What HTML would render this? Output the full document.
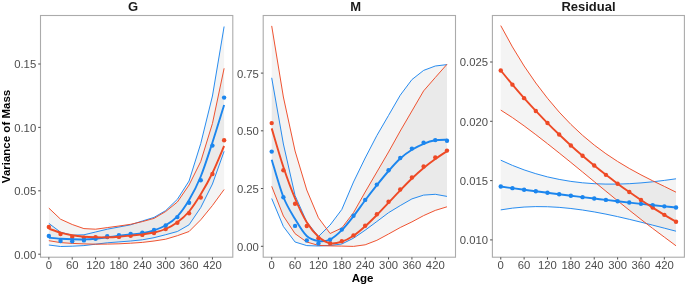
<!DOCTYPE html>
<html><head><meta charset="utf-8"><title>Variance of Mass</title><style>
html,body{margin:0;padding:0;background:#fff;}
body{width:685px;height:286px;overflow:hidden;}
svg{will-change:transform;}
svg text{font-family:"Liberation Sans",sans-serif;}
.tk{font-size:11.3px;fill:#4d4d4d;}
.st{font-size:13px;font-weight:bold;fill:#1a1a1a;}
.ax{font-size:11.5px;font-weight:bold;fill:#000;}
</style></head>
<body>
<svg width="685" height="286" viewBox="0 0 685 286" style="display:block">
<rect width="685" height="286" fill="#fff"/>
<clipPath id="cG"><rect x="40.5" y="15.5" width="192.3" height="241.7"/></clipPath>
<g clip-path="url(#cG)">
<polygon points="48.85,208.10 60.54,219.20 72.22,224.50 83.91,228.60 95.59,229.20 107.28,227.60 118.96,226.00 130.65,224.30 142.33,221.60 154.02,218.40 165.70,211.50 177.38,202.00 189.07,185.00 200.75,161.50 212.44,123.50 224.12,68.30 224.12,189.50 212.44,205.50 200.75,219.80 189.07,231.50 177.38,235.70 165.70,239.20 154.02,241.00 142.33,242.40 130.65,243.20 118.96,243.80 107.28,244.10 95.59,244.20 83.91,243.90 72.22,243.40 60.54,242.60 48.85,240.70" fill="rgba(179,179,179,0.15)"/>
<polygon points="48.85,223.40 60.54,232.20 72.22,235.20 83.91,234.80 95.59,232.00 107.28,229.20 118.96,227.00 130.65,224.80 142.33,221.00 154.02,217.40 165.70,210.60 177.38,199.30 189.07,181.00 200.75,143.50 212.44,96.00 224.12,26.50 224.12,151.30 212.44,184.00 200.75,207.50 189.07,224.80 177.38,231.50 165.70,234.70 154.02,237.70 142.33,239.80 130.65,241.00 118.96,241.90 107.28,242.80 95.59,244.20 83.91,245.60 72.22,246.20 60.54,246.50 48.85,245.00" fill="rgba(179,179,179,0.15)"/>
<polyline points="48.85,223.40 60.54,232.20 72.22,235.20 83.91,234.80 95.59,232.00 107.28,229.20 118.96,227.00 130.65,224.80 142.33,221.00 154.02,217.40 165.70,210.60 177.38,199.30 189.07,181.00 200.75,143.50 212.44,96.00 224.12,26.50" fill="none" stroke="#1C86EE" stroke-width="0.95" stroke-linejoin="round"/>
<polyline points="48.85,245.00 60.54,246.50 72.22,246.20 83.91,245.60 95.59,244.20 107.28,242.80 118.96,241.90 130.65,241.00 142.33,239.80 154.02,237.70 165.70,234.70 177.38,231.50 189.07,224.80 200.75,207.50 212.44,184.00 224.12,151.30" fill="none" stroke="#1C86EE" stroke-width="0.95" stroke-linejoin="round"/>
<polyline points="48.85,208.10 60.54,219.20 72.22,224.50 83.91,228.60 95.59,229.20 107.28,227.60 118.96,226.00 130.65,224.30 142.33,221.60 154.02,218.40 165.70,211.50 177.38,202.00 189.07,185.00 200.75,161.50 212.44,123.50 224.12,68.30" fill="none" stroke="#EE4A26" stroke-width="0.95" stroke-linejoin="round"/>
<polyline points="48.85,240.70 60.54,242.60 72.22,243.40 83.91,243.90 95.59,244.20 107.28,244.10 118.96,243.80 130.65,243.20 142.33,242.40 154.02,241.00 165.70,239.20 177.38,235.70 189.07,231.50 200.75,219.80 212.44,205.50 224.12,189.50" fill="none" stroke="#EE4A26" stroke-width="0.95" stroke-linejoin="round"/>
<circle cx="48.85" cy="227.00" r="2.2" fill="#EE4A26"/>
<circle cx="60.54" cy="234.00" r="2.2" fill="#EE4A26"/>
<circle cx="72.22" cy="237.00" r="2.2" fill="#EE4A26"/>
<circle cx="83.91" cy="237.60" r="2.2" fill="#EE4A26"/>
<circle cx="95.59" cy="237.30" r="2.2" fill="#EE4A26"/>
<circle cx="107.28" cy="237.10" r="2.2" fill="#EE4A26"/>
<circle cx="118.96" cy="236.90" r="2.2" fill="#EE4A26"/>
<circle cx="130.65" cy="235.70" r="2.2" fill="#EE4A26"/>
<circle cx="142.33" cy="234.90" r="2.2" fill="#EE4A26"/>
<circle cx="154.02" cy="233.00" r="2.2" fill="#EE4A26"/>
<circle cx="165.70" cy="229.10" r="2.2" fill="#EE4A26"/>
<circle cx="177.38" cy="222.70" r="2.2" fill="#EE4A26"/>
<circle cx="189.07" cy="213.30" r="2.2" fill="#EE4A26"/>
<circle cx="200.75" cy="197.50" r="2.2" fill="#EE4A26"/>
<circle cx="212.44" cy="174.00" r="2.2" fill="#EE4A26"/>
<circle cx="224.12" cy="140.20" r="2.2" fill="#EE4A26"/>
<circle cx="48.85" cy="235.90" r="2.2" fill="#1C86EE"/>
<circle cx="60.54" cy="241.00" r="2.2" fill="#1C86EE"/>
<circle cx="72.22" cy="241.30" r="2.2" fill="#1C86EE"/>
<circle cx="83.91" cy="240.40" r="2.2" fill="#1C86EE"/>
<circle cx="95.59" cy="238.70" r="2.2" fill="#1C86EE"/>
<circle cx="107.28" cy="236.30" r="2.2" fill="#1C86EE"/>
<circle cx="118.96" cy="235.20" r="2.2" fill="#1C86EE"/>
<circle cx="130.65" cy="233.90" r="2.2" fill="#1C86EE"/>
<circle cx="142.33" cy="232.60" r="2.2" fill="#1C86EE"/>
<circle cx="154.02" cy="229.90" r="2.2" fill="#1C86EE"/>
<circle cx="165.70" cy="225.50" r="2.2" fill="#1C86EE"/>
<circle cx="177.38" cy="217.10" r="2.2" fill="#1C86EE"/>
<circle cx="189.07" cy="202.70" r="2.2" fill="#1C86EE"/>
<circle cx="200.75" cy="180.30" r="2.2" fill="#1C86EE"/>
<circle cx="212.44" cy="145.60" r="2.2" fill="#1C86EE"/>
<circle cx="224.12" cy="97.60" r="2.2" fill="#1C86EE"/>
<path d="M48.85,237.70 C50.80,237.87 56.64,238.43 60.54,238.70 C64.43,238.97 68.33,239.18 72.22,239.30 C76.11,239.42 80.01,239.50 83.91,239.40 C87.80,239.30 91.70,239.05 95.59,238.70 C99.48,238.35 103.38,237.78 107.28,237.30 C111.17,236.82 115.07,236.27 118.96,235.80 C122.86,235.33 126.75,234.93 130.65,234.50 C134.54,234.07 138.44,233.90 142.33,233.20 C146.23,232.50 150.12,231.62 154.02,230.30 C157.91,228.98 161.81,227.63 165.70,225.30 C169.60,222.97 173.49,220.52 177.38,216.30 C181.28,212.08 185.17,206.63 189.07,200.00 C192.97,193.37 196.86,186.08 200.75,176.50 C204.65,166.92 208.54,154.42 212.44,142.50 C216.34,130.58 222.18,111.25 224.12,105.00" fill="none" stroke="#1C86EE" stroke-width="1.9" stroke-linecap="butt"/>
<path d="M48.85,228.70 C50.80,229.35 56.64,231.50 60.54,232.60 C64.43,233.70 68.33,234.60 72.22,235.30 C76.11,236.00 80.01,236.47 83.91,236.80 C87.80,237.13 91.70,237.22 95.59,237.30 C99.48,237.38 103.38,237.40 107.28,237.30 C111.17,237.20 115.07,236.98 118.96,236.70 C122.86,236.42 126.75,235.98 130.65,235.60 C134.54,235.22 138.44,234.92 142.33,234.40 C146.23,233.88 150.12,233.40 154.02,232.50 C157.91,231.60 161.81,230.70 165.70,229.00 C169.60,227.30 173.49,225.22 177.38,222.30 C181.28,219.38 185.17,216.17 189.07,211.50 C192.97,206.83 196.86,200.72 200.75,194.30 C204.65,187.88 208.54,181.05 212.44,173.00 C216.34,164.95 222.18,150.50 224.12,146.00" fill="none" stroke="#EE4A26" stroke-width="1.9" stroke-linecap="butt"/>
</g>
<rect x="40.5" y="15.5" width="192.3" height="241.7" fill="none" stroke="#ababab" stroke-width="1.1"/>
<line x1="48.85" y1="257.2" x2="48.85" y2="259.5" stroke="#555" stroke-width="1.05"/>
<text x="48.85" y="268.8" text-anchor="middle" class="tk">0</text>
<line x1="72.22" y1="257.2" x2="72.22" y2="259.5" stroke="#555" stroke-width="1.05"/>
<text x="72.22" y="268.8" text-anchor="middle" class="tk">60</text>
<line x1="95.59" y1="257.2" x2="95.59" y2="259.5" stroke="#555" stroke-width="1.05"/>
<text x="95.59" y="268.8" text-anchor="middle" class="tk">120</text>
<line x1="118.96" y1="257.2" x2="118.96" y2="259.5" stroke="#555" stroke-width="1.05"/>
<text x="118.96" y="268.8" text-anchor="middle" class="tk">180</text>
<line x1="142.33" y1="257.2" x2="142.33" y2="259.5" stroke="#555" stroke-width="1.05"/>
<text x="142.33" y="268.8" text-anchor="middle" class="tk">240</text>
<line x1="165.70" y1="257.2" x2="165.70" y2="259.5" stroke="#555" stroke-width="1.05"/>
<text x="165.70" y="268.8" text-anchor="middle" class="tk">300</text>
<line x1="189.07" y1="257.2" x2="189.07" y2="259.5" stroke="#555" stroke-width="1.05"/>
<text x="189.07" y="268.8" text-anchor="middle" class="tk">360</text>
<line x1="212.44" y1="257.2" x2="212.44" y2="259.5" stroke="#555" stroke-width="1.05"/>
<text x="212.44" y="268.8" text-anchor="middle" class="tk">420</text>
<clipPath id="cM"><rect x="263.2" y="15.5" width="192.3" height="241.7"/></clipPath>
<g clip-path="url(#cM)">
<polygon points="271.70,25.90 283.38,97.00 295.07,151.00 306.75,190.00 318.44,217.80 330.12,233.50 341.81,228.00 353.50,212.70 365.18,192.00 376.87,172.00 388.55,152.00 400.24,131.00 411.92,111.00 423.61,90.90 435.29,77.50 446.98,64.30 446.98,206.80 435.29,210.40 423.61,215.60 411.92,221.90 400.24,227.50 388.55,234.00 376.87,240.30 365.18,244.80 353.50,246.40 341.81,246.10 330.12,245.90 318.44,245.40 306.75,242.00 295.07,233.70 283.38,216.00 271.70,186.30" fill="rgba(179,179,179,0.15)"/>
<polygon points="271.70,77.80 283.38,144.00 295.07,195.50 306.75,222.00 318.44,236.50 330.12,225.00 341.81,209.50 353.50,182.00 365.18,158.00 376.87,135.50 388.55,115.40 400.24,95.20 411.92,79.60 423.61,70.40 435.29,66.00 446.98,64.60 446.98,196.40 435.29,194.30 423.61,195.10 411.92,198.90 400.24,205.60 388.55,212.70 376.87,221.50 365.18,230.20 353.50,238.20 341.81,244.00 330.12,245.50 318.44,246.00 306.75,245.60 295.07,242.00 283.38,226.50 271.70,198.50" fill="rgba(179,179,179,0.15)"/>
<polyline points="271.70,77.80 283.38,144.00 295.07,195.50 306.75,222.00 318.44,236.50 330.12,225.00 341.81,209.50 353.50,182.00 365.18,158.00 376.87,135.50 388.55,115.40 400.24,95.20 411.92,79.60 423.61,70.40 435.29,66.00 446.98,64.60" fill="none" stroke="#1C86EE" stroke-width="0.95" stroke-linejoin="round"/>
<polyline points="271.70,198.50 283.38,226.50 295.07,242.00 306.75,245.60 318.44,246.00 330.12,245.50 341.81,244.00 353.50,238.20 365.18,230.20 376.87,221.50 388.55,212.70 400.24,205.60 411.92,198.90 423.61,195.10 435.29,194.30 446.98,196.40" fill="none" stroke="#1C86EE" stroke-width="0.95" stroke-linejoin="round"/>
<polyline points="271.70,25.90 283.38,97.00 295.07,151.00 306.75,190.00 318.44,217.80 330.12,233.50 341.81,228.00 353.50,212.70 365.18,192.00 376.87,172.00 388.55,152.00 400.24,131.00 411.92,111.00 423.61,90.90 435.29,77.50 446.98,64.30" fill="none" stroke="#EE4A26" stroke-width="0.95" stroke-linejoin="round"/>
<polyline points="271.70,186.30 283.38,216.00 295.07,233.70 306.75,242.00 318.44,245.40 330.12,245.90 341.81,246.10 353.50,246.40 365.18,244.80 376.87,240.30 388.55,234.00 400.24,227.50 411.92,221.90 423.61,215.60 435.29,210.40 446.98,206.80" fill="none" stroke="#EE4A26" stroke-width="0.95" stroke-linejoin="round"/>
<circle cx="271.70" cy="123.10" r="2.2" fill="#EE4A26"/>
<circle cx="283.38" cy="170.30" r="2.2" fill="#EE4A26"/>
<circle cx="295.07" cy="203.80" r="2.2" fill="#EE4A26"/>
<circle cx="306.75" cy="226.00" r="2.2" fill="#EE4A26"/>
<circle cx="318.44" cy="238.20" r="2.2" fill="#EE4A26"/>
<circle cx="330.12" cy="243.30" r="2.2" fill="#EE4A26"/>
<circle cx="341.81" cy="241.20" r="2.2" fill="#EE4A26"/>
<circle cx="353.50" cy="235.40" r="2.2" fill="#EE4A26"/>
<circle cx="365.18" cy="225.80" r="2.2" fill="#EE4A26"/>
<circle cx="376.87" cy="214.20" r="2.2" fill="#EE4A26"/>
<circle cx="388.55" cy="201.80" r="2.2" fill="#EE4A26"/>
<circle cx="400.24" cy="189.50" r="2.2" fill="#EE4A26"/>
<circle cx="411.92" cy="177.50" r="2.2" fill="#EE4A26"/>
<circle cx="423.61" cy="166.50" r="2.2" fill="#EE4A26"/>
<circle cx="435.29" cy="157.50" r="2.2" fill="#EE4A26"/>
<circle cx="446.98" cy="150.60" r="2.2" fill="#EE4A26"/>
<circle cx="271.70" cy="151.60" r="2.2" fill="#1C86EE"/>
<circle cx="283.38" cy="197.30" r="2.2" fill="#1C86EE"/>
<circle cx="295.07" cy="225.90" r="2.2" fill="#1C86EE"/>
<circle cx="306.75" cy="240.40" r="2.2" fill="#1C86EE"/>
<circle cx="318.44" cy="243.50" r="2.2" fill="#1C86EE"/>
<circle cx="330.12" cy="239.60" r="2.2" fill="#1C86EE"/>
<circle cx="341.81" cy="229.60" r="2.2" fill="#1C86EE"/>
<circle cx="353.50" cy="215.80" r="2.2" fill="#1C86EE"/>
<circle cx="365.18" cy="199.90" r="2.2" fill="#1C86EE"/>
<circle cx="376.87" cy="184.60" r="2.2" fill="#1C86EE"/>
<circle cx="388.55" cy="170.20" r="2.2" fill="#1C86EE"/>
<circle cx="400.24" cy="158.00" r="2.2" fill="#1C86EE"/>
<circle cx="411.92" cy="148.60" r="2.2" fill="#1C86EE"/>
<circle cx="423.61" cy="142.80" r="2.2" fill="#1C86EE"/>
<circle cx="435.29" cy="140.10" r="2.2" fill="#1C86EE"/>
<circle cx="446.98" cy="140.70" r="2.2" fill="#1C86EE"/>
<path d="M271.70,159.70 C273.65,165.92 279.49,187.12 283.38,197.00 C287.28,206.88 291.18,212.50 295.07,219.00 C298.96,225.50 302.86,232.33 306.75,236.00 C310.65,239.67 314.55,240.42 318.44,241.00 C322.33,241.58 326.23,241.30 330.12,239.50 C334.02,237.70 337.92,234.08 341.81,230.20 C345.70,226.32 349.60,221.18 353.50,216.20 C357.39,211.22 361.29,205.47 365.18,200.30 C369.07,195.13 372.97,190.08 376.87,185.20 C380.76,180.32 384.66,175.45 388.55,171.00 C392.44,166.55 396.34,162.03 400.24,158.50 C404.13,154.97 408.02,152.25 411.92,149.80 C415.81,147.35 419.71,145.38 423.61,143.80 C427.50,142.22 431.39,140.98 435.29,140.30 C439.18,139.62 445.03,139.80 446.98,139.70" fill="none" stroke="#1C86EE" stroke-width="1.9" stroke-linecap="butt"/>
<path d="M271.70,128.40 C273.65,134.83 279.49,155.32 283.38,167.00 C287.28,178.68 291.18,189.28 295.07,198.50 C298.96,207.72 302.86,215.92 306.75,222.30 C310.65,228.68 314.55,233.30 318.44,236.80 C322.33,240.30 326.23,242.48 330.12,243.30 C334.02,244.12 337.92,242.95 341.81,241.70 C345.70,240.45 349.60,238.37 353.50,235.80 C357.39,233.23 361.29,229.77 365.18,226.30 C369.07,222.83 372.97,218.93 376.87,215.00 C380.76,211.07 384.66,206.82 388.55,202.70 C392.44,198.58 396.34,194.33 400.24,190.30 C404.13,186.27 408.02,182.22 411.92,178.50 C415.81,174.78 419.71,171.25 423.61,168.00 C427.50,164.75 431.39,161.80 435.29,159.00 C439.18,156.20 445.03,152.50 446.98,151.20" fill="none" stroke="#EE4A26" stroke-width="1.9" stroke-linecap="butt"/>
</g>
<rect x="263.2" y="15.5" width="192.3" height="241.7" fill="none" stroke="#ababab" stroke-width="1.1"/>
<line x1="271.70" y1="257.2" x2="271.70" y2="259.5" stroke="#555" stroke-width="1.05"/>
<text x="271.70" y="268.8" text-anchor="middle" class="tk">0</text>
<line x1="295.07" y1="257.2" x2="295.07" y2="259.5" stroke="#555" stroke-width="1.05"/>
<text x="295.07" y="268.8" text-anchor="middle" class="tk">60</text>
<line x1="318.44" y1="257.2" x2="318.44" y2="259.5" stroke="#555" stroke-width="1.05"/>
<text x="318.44" y="268.8" text-anchor="middle" class="tk">120</text>
<line x1="341.81" y1="257.2" x2="341.81" y2="259.5" stroke="#555" stroke-width="1.05"/>
<text x="341.81" y="268.8" text-anchor="middle" class="tk">180</text>
<line x1="365.18" y1="257.2" x2="365.18" y2="259.5" stroke="#555" stroke-width="1.05"/>
<text x="365.18" y="268.8" text-anchor="middle" class="tk">240</text>
<line x1="388.55" y1="257.2" x2="388.55" y2="259.5" stroke="#555" stroke-width="1.05"/>
<text x="388.55" y="268.8" text-anchor="middle" class="tk">300</text>
<line x1="411.92" y1="257.2" x2="411.92" y2="259.5" stroke="#555" stroke-width="1.05"/>
<text x="411.92" y="268.8" text-anchor="middle" class="tk">360</text>
<line x1="435.29" y1="257.2" x2="435.29" y2="259.5" stroke="#555" stroke-width="1.05"/>
<text x="435.29" y="268.8" text-anchor="middle" class="tk">420</text>
<clipPath id="cR"><rect x="492.4" y="15.5" width="192.0" height="241.7"/></clipPath>
<g clip-path="url(#cR)">
<polygon points="500.75,25.60 512.43,46.90 524.12,66.00 535.80,83.00 547.49,98.25 559.17,112.07 570.86,124.38 582.54,135.32 594.23,145.05 605.91,153.71 617.60,161.46 629.28,168.46 640.97,174.85 652.65,180.79 664.34,186.42 676.02,192.20 676.02,245.80 664.34,237.12 652.65,228.41 640.97,219.40 629.28,210.16 617.60,200.74 605.91,191.20 594.23,181.59 582.54,171.98 570.86,162.42 559.17,152.97 547.49,143.70 535.80,134.64 524.12,125.87 512.43,117.60 500.75,110.10" fill="rgba(179,179,179,0.15)"/>
<polygon points="500.75,160.20 512.43,165.40 524.12,169.90 535.80,173.70 547.49,176.90 559.17,179.40 570.86,181.40 582.54,182.80 594.23,183.70 605.91,184.10 617.60,184.10 629.28,183.70 640.97,182.90 652.65,181.80 664.34,180.40 676.02,178.80 676.02,231.19 664.34,228.16 652.65,225.14 640.97,222.17 629.28,219.32 617.60,216.62 605.91,214.14 594.23,211.92 582.54,210.02 570.86,208.49 559.17,207.37 547.49,206.73 535.80,206.60 524.12,207.05 512.43,208.13 500.75,209.88" fill="rgba(179,179,179,0.15)"/>
<polyline points="500.75,160.20 512.43,165.40 524.12,169.90 535.80,173.70 547.49,176.90 559.17,179.40 570.86,181.40 582.54,182.80 594.23,183.70 605.91,184.10 617.60,184.10 629.28,183.70 640.97,182.90 652.65,181.80 664.34,180.40 676.02,178.80" fill="none" stroke="#1C86EE" stroke-width="0.95" stroke-linejoin="round"/>
<polyline points="500.75,209.88 512.43,208.13 524.12,207.05 535.80,206.60 547.49,206.73 559.17,207.37 570.86,208.49 582.54,210.02 594.23,211.92 605.91,214.14 617.60,216.62 629.28,219.32 640.97,222.17 652.65,225.14 664.34,228.16 676.02,231.19" fill="none" stroke="#1C86EE" stroke-width="0.95" stroke-linejoin="round"/>
<polyline points="500.75,25.60 512.43,46.90 524.12,66.00 535.80,83.00 547.49,98.25 559.17,112.07 570.86,124.38 582.54,135.32 594.23,145.05 605.91,153.71 617.60,161.46 629.28,168.46 640.97,174.85 652.65,180.79 664.34,186.42 676.02,192.20" fill="none" stroke="#EE4A26" stroke-width="0.95" stroke-linejoin="round"/>
<polyline points="500.75,110.10 512.43,117.60 524.12,125.87 535.80,134.64 547.49,143.70 559.17,152.97 570.86,162.42 582.54,171.98 594.23,181.59 605.91,191.20 617.60,200.74 629.28,210.16 640.97,219.40 652.65,228.41 664.34,237.12 676.02,245.80" fill="none" stroke="#EE4A26" stroke-width="0.95" stroke-linejoin="round"/>
<circle cx="500.75" cy="70.47" r="2.2" fill="#EE4A26"/>
<circle cx="512.43" cy="84.67" r="2.2" fill="#EE4A26"/>
<circle cx="524.12" cy="98.15" r="2.2" fill="#EE4A26"/>
<circle cx="535.80" cy="110.93" r="2.2" fill="#EE4A26"/>
<circle cx="547.49" cy="123.06" r="2.2" fill="#EE4A26"/>
<circle cx="559.17" cy="134.55" r="2.2" fill="#EE4A26"/>
<circle cx="570.86" cy="145.45" r="2.2" fill="#EE4A26"/>
<circle cx="582.54" cy="155.78" r="2.2" fill="#EE4A26"/>
<circle cx="594.23" cy="165.57" r="2.2" fill="#EE4A26"/>
<circle cx="605.91" cy="174.86" r="2.2" fill="#EE4A26"/>
<circle cx="617.60" cy="183.68" r="2.2" fill="#EE4A26"/>
<circle cx="629.28" cy="192.05" r="2.2" fill="#EE4A26"/>
<circle cx="640.97" cy="200.01" r="2.2" fill="#EE4A26"/>
<circle cx="652.65" cy="207.60" r="2.2" fill="#EE4A26"/>
<circle cx="664.34" cy="214.83" r="2.2" fill="#EE4A26"/>
<circle cx="676.02" cy="221.75" r="2.2" fill="#EE4A26"/>
<circle cx="500.75" cy="186.56" r="2.2" fill="#1C86EE"/>
<circle cx="512.43" cy="188.16" r="2.2" fill="#1C86EE"/>
<circle cx="524.12" cy="189.74" r="2.2" fill="#1C86EE"/>
<circle cx="535.80" cy="191.28" r="2.2" fill="#1C86EE"/>
<circle cx="547.49" cy="192.79" r="2.2" fill="#1C86EE"/>
<circle cx="559.17" cy="194.27" r="2.2" fill="#1C86EE"/>
<circle cx="570.86" cy="195.73" r="2.2" fill="#1C86EE"/>
<circle cx="582.54" cy="197.16" r="2.2" fill="#1C86EE"/>
<circle cx="594.23" cy="198.55" r="2.2" fill="#1C86EE"/>
<circle cx="605.91" cy="199.92" r="2.2" fill="#1C86EE"/>
<circle cx="617.60" cy="201.26" r="2.2" fill="#1C86EE"/>
<circle cx="629.28" cy="202.57" r="2.2" fill="#1C86EE"/>
<circle cx="640.97" cy="203.85" r="2.2" fill="#1C86EE"/>
<circle cx="652.65" cy="205.10" r="2.2" fill="#1C86EE"/>
<circle cx="664.34" cy="206.33" r="2.2" fill="#1C86EE"/>
<circle cx="676.02" cy="207.52" r="2.2" fill="#1C86EE"/>
<path d="M500.75,186.56 C502.70,186.83 508.54,187.63 512.43,188.16 C516.33,188.69 520.23,189.22 524.12,189.74 C528.01,190.26 531.91,190.77 535.80,191.28 C539.70,191.79 543.60,192.29 547.49,192.79 C551.38,193.29 555.28,193.78 559.17,194.27 C563.07,194.76 566.97,195.25 570.86,195.73 C574.75,196.21 578.65,196.69 582.54,197.16 C586.44,197.63 590.34,198.09 594.23,198.55 C598.12,199.01 602.02,199.47 605.91,199.92 C609.81,200.37 613.71,200.82 617.60,201.26 C621.50,201.70 625.39,202.14 629.28,202.57 C633.18,203.00 637.08,203.43 640.97,203.85 C644.87,204.27 648.76,204.69 652.65,205.10 C656.55,205.51 660.45,205.93 664.34,206.33 C668.24,206.73 674.08,207.32 676.02,207.52" fill="none" stroke="#1C86EE" stroke-width="1.9" stroke-linecap="butt"/>
<path d="M500.75,70.47 C502.70,72.84 508.54,80.06 512.43,84.67 C516.33,89.28 520.23,93.77 524.12,98.15 C528.01,102.53 531.91,106.78 535.80,110.93 C539.70,115.08 543.60,119.12 547.49,123.06 C551.38,127.00 555.28,130.82 559.17,134.55 C563.07,138.28 566.97,141.91 570.86,145.45 C574.75,148.99 578.65,152.43 582.54,155.78 C586.44,159.13 590.34,162.39 594.23,165.57 C598.12,168.75 602.02,171.84 605.91,174.86 C609.81,177.88 613.71,180.81 617.60,183.68 C621.50,186.55 625.39,189.33 629.28,192.05 C633.18,194.77 637.08,197.42 640.97,200.01 C644.87,202.60 648.76,205.13 652.65,207.60 C656.55,210.07 660.45,212.47 664.34,214.83 C668.24,217.19 674.08,220.60 676.02,221.75" fill="none" stroke="#EE4A26" stroke-width="1.9" stroke-linecap="butt"/>
</g>
<rect x="492.4" y="15.5" width="192.0" height="241.7" fill="none" stroke="#ababab" stroke-width="1.1"/>
<line x1="500.75" y1="257.2" x2="500.75" y2="259.5" stroke="#555" stroke-width="1.05"/>
<text x="500.75" y="268.8" text-anchor="middle" class="tk">0</text>
<line x1="524.12" y1="257.2" x2="524.12" y2="259.5" stroke="#555" stroke-width="1.05"/>
<text x="524.12" y="268.8" text-anchor="middle" class="tk">60</text>
<line x1="547.49" y1="257.2" x2="547.49" y2="259.5" stroke="#555" stroke-width="1.05"/>
<text x="547.49" y="268.8" text-anchor="middle" class="tk">120</text>
<line x1="570.86" y1="257.2" x2="570.86" y2="259.5" stroke="#555" stroke-width="1.05"/>
<text x="570.86" y="268.8" text-anchor="middle" class="tk">180</text>
<line x1="594.23" y1="257.2" x2="594.23" y2="259.5" stroke="#555" stroke-width="1.05"/>
<text x="594.23" y="268.8" text-anchor="middle" class="tk">240</text>
<line x1="617.60" y1="257.2" x2="617.60" y2="259.5" stroke="#555" stroke-width="1.05"/>
<text x="617.60" y="268.8" text-anchor="middle" class="tk">300</text>
<line x1="640.97" y1="257.2" x2="640.97" y2="259.5" stroke="#555" stroke-width="1.05"/>
<text x="640.97" y="268.8" text-anchor="middle" class="tk">360</text>
<line x1="664.34" y1="257.2" x2="664.34" y2="259.5" stroke="#555" stroke-width="1.05"/>
<text x="664.34" y="268.8" text-anchor="middle" class="tk">420</text>
<line x1="38.2" y1="64.0" x2="40.5" y2="64.0" stroke="#555" stroke-width="1.05"/>
<text x="36.2" y="68.40" text-anchor="end" class="tk">0.15</text>
<line x1="38.2" y1="127.4" x2="40.5" y2="127.4" stroke="#555" stroke-width="1.05"/>
<text x="36.2" y="131.80" text-anchor="end" class="tk">0.10</text>
<line x1="38.2" y1="190.8" x2="40.5" y2="190.8" stroke="#555" stroke-width="1.05"/>
<text x="36.2" y="195.20" text-anchor="end" class="tk">0.05</text>
<line x1="38.2" y1="254.2" x2="40.5" y2="254.2" stroke="#555" stroke-width="1.05"/>
<text x="36.2" y="258.60" text-anchor="end" class="tk">0.00</text>
<line x1="260.9" y1="73.1" x2="263.2" y2="73.1" stroke="#555" stroke-width="1.05"/>
<text x="258.9" y="77.50" text-anchor="end" class="tk">0.75</text>
<line x1="260.9" y1="130.8" x2="263.2" y2="130.8" stroke="#555" stroke-width="1.05"/>
<text x="258.9" y="135.20" text-anchor="end" class="tk">0.50</text>
<line x1="260.9" y1="188.5" x2="263.2" y2="188.5" stroke="#555" stroke-width="1.05"/>
<text x="258.9" y="192.90" text-anchor="end" class="tk">0.25</text>
<line x1="260.9" y1="246.3" x2="263.2" y2="246.3" stroke="#555" stroke-width="1.05"/>
<text x="258.9" y="250.70" text-anchor="end" class="tk">0.00</text>
<line x1="490.09999999999997" y1="62.0" x2="492.4" y2="62.0" stroke="#555" stroke-width="1.05"/>
<text x="488.09999999999997" y="66.40" text-anchor="end" class="tk">0.025</text>
<line x1="490.09999999999997" y1="121.3" x2="492.4" y2="121.3" stroke="#555" stroke-width="1.05"/>
<text x="488.09999999999997" y="125.70" text-anchor="end" class="tk">0.020</text>
<line x1="490.09999999999997" y1="180.6" x2="492.4" y2="180.6" stroke="#555" stroke-width="1.05"/>
<text x="488.09999999999997" y="185.00" text-anchor="end" class="tk">0.015</text>
<line x1="490.09999999999997" y1="239.9" x2="492.4" y2="239.9" stroke="#555" stroke-width="1.05"/>
<text x="488.09999999999997" y="244.30" text-anchor="end" class="tk">0.010</text>
<text x="133.1" y="11.3" text-anchor="middle" class="st">G</text>
<text x="355.7" y="11.3" text-anchor="middle" class="st">M</text>
<text x="588.5" y="11.3" text-anchor="middle" class="st">Residual</text>
<text x="362.5" y="281.5" text-anchor="middle" class="ax">Age</text>
<text transform="translate(9.9,136.5) rotate(-90)" x="0" y="0" text-anchor="middle" class="ax">Variance of Mass</text>
</svg>
</body></html>
